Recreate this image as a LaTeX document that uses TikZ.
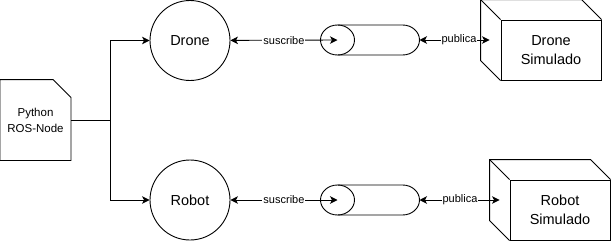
\documentclass[tikz,border=0pt]{standalone}
\usepackage{fontspec}
\setmainfont{Liberation Sans}
\usetikzlibrary{arrows.meta,calc}
\begin{document}
\begin{tikzpicture}[x=1pt,y=-1pt,line width=0.9pt,
  tip/.tip={Stealth[length=7.5pt,width=7.5pt,inset=2pt]},
  unit/.style={circle,draw,minimum size=80pt,inner sep=0pt,
    font=\fontsize{14.5}{17}\selectfont},
  simbox/.style={draw,minimum width=100pt,minimum height=60pt,inner sep=0pt,
    align=center,font=\fontsize{14.5}{19}\selectfont},
  docbox/.style={minimum width=70pt,minimum height=80pt,inner sep=0pt,
    align=center,font=\fontsize{11.5}{16}\selectfont},
  feed/.style={-tip},
  link/.style={tip-tip},
  tag/.style={fill=white,inner sep=1pt,font=\fontsize{11}{13}\selectfont},
]
\useasboundingbox (0,0) rectangle (611,241);

% Python node: document with a folded corner
\node[docbox] (doc) at (35.5,120) {Python\\ROS-Node};
\draw (doc.north west) -- ($(doc.north east)+(-18,0)$)
  -- ($(doc.north east)+(0,18)$) -- (doc.south east)
  -- (doc.south west) -- cycle;

% controllers
\node[unit] (drone) at (190,40.5) {Drone};
\node[unit] (robot) at (190,200) {Robot};

% simulated devices (cubes)
\node[simbox] (dsim) at (551,50) {Drone\\Simulado};
\node[simbox] (rsim) at (560,210) {Robot\\Simulado};
\foreach \b in {dsim,rsim}{
  \draw (\b.south west) -- ++(-20,-20) |- ($(\b.north east)+(-20,-20)$)
    -- (\b.north east);
  \draw (\b.north west) -- ++(-20,-20);
}

% topics (horizontal cylinders)
\foreach \t/\y in {tA/40,tB/200}{
  \draw (337.5,\y) ellipse [x radius=17,y radius=15];
  \draw (337.5,\y-15) -- (402.5,\y-15)
    arc [start angle=-90,end angle=90,x radius=17,y radius=15]
    -- (337.5,\y+15);
  \coordinate (\t) at (337.5,\y);
  \coordinate (\t-end) at (419.5,\y);
}

% fan-out from the Python node
\coordinate (split) at (110.5,120);
\draw (doc.east) -- (split);
\draw[feed] (split) |- (drone);
\draw[feed] (split) |- (robot);

% subscriptions and publications
\draw[link] (drone) -- node[tag] {suscribe} (tA);
\draw[link] (robot) -- node[tag] {suscribe} (tB);
\draw[link,shorten >=11pt] (tA-end) -- (tA-end -| dsim.west);
\node[tag] at (459,40) {publica};
\draw[link,shorten >=10pt] (tB-end) -- (tB-end -| rsim.west);
\node[tag] at (460,200) {publica};
\end{tikzpicture}
\end{document}
